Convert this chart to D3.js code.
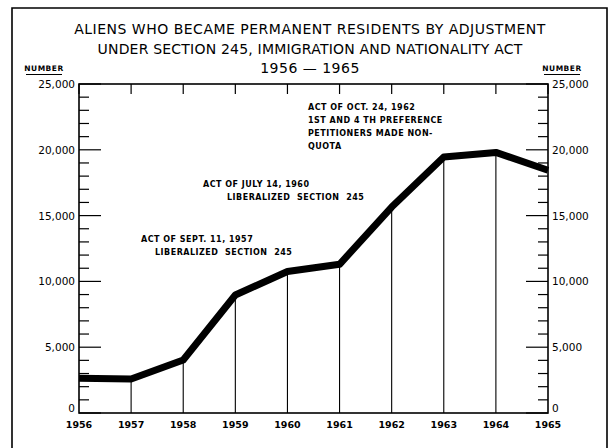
<!DOCTYPE html>
<html lang="en">
<head>
  <meta charset="UTF-8" />
  <title>Aliens Who Became Permanent Residents by Adjustment</title>
  <script src="https://d3js.org/d3.v7.min.js"></script>
  <style>
    body { margin: 0; background: #fff; }
    svg { display: block; font-family: "DejaVu Sans", sans-serif; }
  </style>
</head>
<body>
  <svg id="chart" width="612" height="448"></svg>
  <script>
    // data
    const years = [1956, 1957, 1958, 1959, 1960, 1961, 1962, 1963, 1964, 1965];
    const residents = [2650, 2580, 4030, 8970, 10750, 11300, 15650, 19450, 19800, 18450];
    const yTicks = [0, 5000, 10000, 15000, 20000, 25000];
    const titleLines = [
      "ALIENS WHO BECAME PERMANENT RESIDENTS BY ADJUSTMENT",
      "UNDER SECTION 245, IMMIGRATION AND NATIONALITY ACT",
      "1956 \u2014 1965"
    ];
    const notes = [
      {lines: ["ACT OF OCT. 24, 1962", "1ST AND 4 TH PREFERENCE", "PETITIONERS MADE NON-", "QUOTA"], x: 308, y: 110, indent: 0},
      {lines: ["ACT OF JULY 14, 1960", "LIBERALIZED  SECTION  245"], x: 203, y: 187, indent: 24},
      {lines: ["ACT OF SEPT. 11, 1957", "LIBERALIZED  SECTION  245"], x: 141, y: 242, indent: 14}
    ];

    const svg = d3.select("#chart"),
          margin = {top: 84, right: 64, bottom: 35, left: 79},
          width = 612 - margin.left - margin.right,
          height = 448 - margin.top - margin.bottom;

    const chart = svg.append("g")
        .attr("transform", `translate(${margin.left},${margin.top})`);

    const x = d3.scaleLinear().domain([1956, 1965]).range([0, width]);
    const y = d3.scaleLinear().domain([0, 25000]).range([height, 0]);

    // outer frame (no bottom edge)
    svg.append("path")
        .attr("d", "M12,448 L12,8 L607,8 L607,448")
        .attr("fill", "none")
        .attr("stroke", "#000")
        .attr("stroke-width", 1.6);

    // title
    svg.selectAll(".title")
      .data(titleLines)
      .enter().append("text")
        .attr("x", 310)
        .attr("y", (d, i) => 34 + i * 19.5)
        .attr("text-anchor", "middle")
        .attr("font-size", "14px")
        .attr("letter-spacing", (d, i) => i === 1 ? "0.2px" : "0.5px")
        .text(d => d);

    // NUMBER labels
    [44, 562].forEach(px => {
      svg.append("text")
        .attr("x", px).attr("y", 71)
        .attr("text-anchor", "middle")
        .attr("font-size", "7.5px")
        .attr("font-weight", "bold")
        .attr("letter-spacing", "0.5px")
        .text("NUMBER");
      svg.append("line")
        .attr("x1", px - 18).attr("x2", px + 18)
        .attr("y1", 74.5).attr("y2", 74.5)
        .attr("stroke", "#000").attr("stroke-width", 1);
    });

    // plot box
    chart.append("rect")
        .attr("width", width).attr("height", height)
        .attr("fill", "none").attr("stroke", "#000").attr("stroke-width", 1.6);

    // minor / major ticks on both sides, pointing inward
    const allTicks = d3.range(0, 25001, 1000);
    chart.selectAll(".ltick")
      .data(allTicks)
      .enter().append("line")
        .attr("x1", 0)
        .attr("x2", d => d % 5000 === 0 ? 22 : 10)
        .attr("y1", d => y(d)).attr("y2", d => y(d))
        .attr("stroke", "#000").attr("stroke-width", 1.2);
    chart.selectAll(".rtick")
      .data(allTicks)
      .enter().append("line")
        .attr("x1", width)
        .attr("x2", d => width - (d % 5000 === 0 ? 22 : 10))
        .attr("y1", d => y(d)).attr("y2", d => y(d))
        .attr("stroke", "#000").attr("stroke-width", 1.2);

    // top ticks at each year
    chart.selectAll(".ttick")
      .data(years)
      .enter().append("line")
        .attr("x1", d => x(d)).attr("x2", d => x(d))
        .attr("y1", 0).attr("y2", 10)
        .attr("stroke", "#000").attr("stroke-width", 1.2);

    // y tick labels
    const fmt = d3.format(",");
    chart.selectAll(".ylab")
      .data(yTicks)
      .enter().append("text")
        .attr("x", -4)
        .attr("y", d => y(d) + (d === 0 ? -1 : 4))
        .attr("text-anchor", "end")
        .attr("font-size", "10.5px")
        .text(d => fmt(d));
    chart.selectAll(".rlab")
      .data(yTicks)
      .enter().append("text")
        .attr("x", width + 4)
        .attr("y", d => y(d) + (d === 0 ? -1 : 4))
        .attr("font-size", "10.5px")
        .text(d => fmt(d));

    // year labels
    chart.selectAll(".xlab")
      .data(years)
      .enter().append("text")
        .attr("x", d => x(d))
        .attr("y", height + 15)
        .attr("text-anchor", "middle")
        .attr("font-size", "9.5px")
        .attr("font-weight", "bold")
        .text(d => d);

    // drop lines
    const pts = years.map((yr, i) => ({yr, v: residents[i]}));
    chart.selectAll(".drop")
      .data(pts.slice(1, -1))
      .enter().append("line")
        .attr("x1", d => x(d.yr)).attr("x2", d => x(d.yr))
        .attr("y1", d => y(d.v)).attr("y2", height)
        .attr("stroke", "#000").attr("stroke-width", 1.1);

    // data line
    chart.append("path")
        .datum(pts)
        .attr("fill", "none")
        .attr("stroke", "#000")
        .attr("stroke-width", 7)
        .attr("stroke-linejoin", "round")
        .attr("d", d3.line().x(d => x(d.yr)).y(d => y(d.v)));

    // annotations
    notes.forEach(n => {
      svg.append("text")
        .attr("font-size", "8px")
        .attr("font-weight", "bold")
        .attr("letter-spacing", "0.5px")
        .attr("xml:space", "preserve")
        .selectAll("tspan")
        .data(n.lines)
        .enter().append("tspan")
          .attr("x", (d, i) => n.x + (i > 0 ? n.indent : 0))
          .attr("y", (d, i) => n.y + i * 13)
          .text(d => d);
    });
  </script>
</body>
</html>
